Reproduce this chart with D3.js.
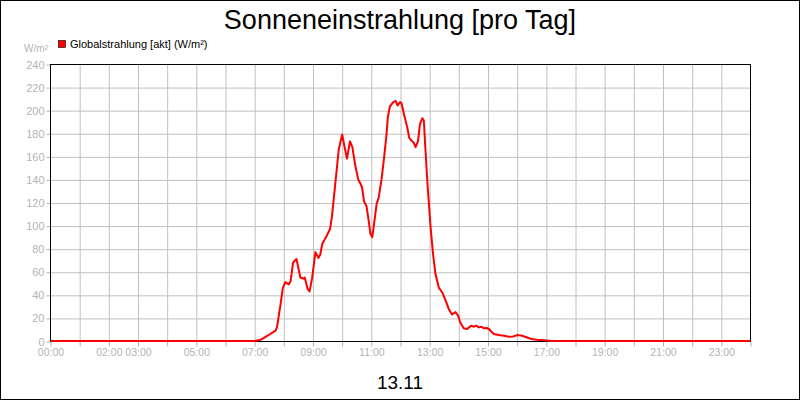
<!DOCTYPE html>
<html>
<head>
<meta charset="utf-8">
<script src="https://cdn.jsdelivr.net/npm/d3@7.9.0/dist/d3.min.js"></script>
<style>
  body { margin: 0; background: #fff; }
  svg { display: block; font-family: Arial, "Liberation Sans", sans-serif; }
</style>
</head>
<body>
<svg id="chart" width="800" height="400"></svg>
<script>
// readings of the day (time of day, W/m²)
const times = [
  "00:00", "07:00", "07:12", "07:20", "07:28", "07:43", "07:46", "07:53", "07:58",
  "08:03", "08:10", "08:14", "08:19", "08:26", "08:34", "08:40", "08:43", "08:49", "08:53", "08:58",
  "09:05", "09:11", "09:15", "09:19", "09:28", "09:35", "09:39", "09:46", "09:53",
  "10:00", "10:05", "10:10", "10:16", "10:21", "10:27", "10:33", "10:38", "10:41", "10:45", "10:50", "10:55", "10:58",
  "11:02", "11:07", "11:11", "11:15", "11:21", "11:26", "11:31", "11:34", "11:38", "11:45", "11:50", "11:54", "11:59",
  "12:02", "12:08", "12:14", "12:18", "12:24", "12:27", "12:31", "12:36", "12:40", "12:45", "12:48", "12:51", "12:56",
  "13:02", "13:07", "13:12", "13:19", "13:26", "13:33", "13:39", "13:46", "13:53", "13:58",
  "14:03", "14:10", "14:17", "14:25", "14:31", "14:36", "14:41", "14:47", "14:51", "14:57",
  "15:02", "15:07", "15:12", "15:22", "15:33", "15:43", "15:52",
  "16:01", "16:10", "16:19", "16:29", "16:41", "17:02", "17:10", "24:00"
];
const radiation = [
  0, 0, 1, 3, 5, 9, 12, 31, 46,
  51, 49, 52, 68, 71, 55, 54, 55, 45, 43, 54,
  77, 72, 75, 84, 91, 97, 108, 137, 166,
  179, 168, 158, 173, 168, 152, 140, 136, 133, 121, 117, 103, 93,
  90, 106, 119, 124, 140, 158, 178, 194, 203, 207, 208, 204, 207,
  206, 195, 185, 176, 173, 172, 168, 173, 188, 193, 191, 168, 133,
  98, 75, 58, 46, 42, 35, 28, 23, 25, 22.5,
  16, 11, 10.4, 13.3, 12.4, 13.3, 11.8, 12.4, 11, 11.3,
  10.4, 8, 6, 5.2, 4.6, 3.7, 4,
  5.2, 4.6, 3.2, 1.7, 1.1, 0.5, 0, 0
];
const yTicks = [0, 20, 40, 60, 80, 100, 120, 140, 160, 180, 200, 220, 240];
const xTickLabels = ["00:00", "02:00", "03:00", "05:00", "07:00", "09:00", "11:00",
  "13:00", "15:00", "17:00", "19:00", "21:00", "23:00"];

const title = "Sonneneinstrahlung [pro Tag]";
const seriesName = "Globalstrahlung [akt] (W/m²)";
const unit = "W/m²";
const dayLabel = "13.11";

const width = 800, height = 400;
const plotLeft = 50.5, plotRight = 750.5, plotTop = 64.5, plotBottom = 341.5;
const gray = "#b4b4b4";

const toHours = (s) => {
  const [h, m] = s.split(":").map(Number);
  return h + m / 60;
};
const data = times.map((t, i) => ({ h: toHours(t), v: radiation[i] }));

const svg = d3.select("#chart");

const x = d3.scaleLinear().domain([0, 24]).range([plotLeft, plotRight]);
const y = d3.scaleLinear().domain([0, 240]).range([plotBottom, plotTop]);

// outer frame
svg.append("rect")
  .attr("x", 0.5).attr("y", 0.5)
  .attr("width", width - 1).attr("height", height - 1)
  .attr("fill", "#fff").attr("stroke", "#000");

// grid
svg.append("g")
  .attr("transform", `translate(0,${plotBottom})`)
  .call(d3.axisBottom(x).tickValues(d3.range(1, 24)).tickSize(-(plotBottom - plotTop)).tickFormat(""))
  .call((g) => g.select(".domain").remove())
  .call((g) => g.selectAll("line").attr("stroke", "#c0c0c0"));

svg.append("g")
  .attr("transform", `translate(${plotLeft},0)`)
  .call(d3.axisLeft(y).tickValues(yTicks.slice(1, -1)).tickSize(-(plotRight - plotLeft)).tickFormat(""))
  .call((g) => g.select(".domain").remove())
  .call((g) => g.selectAll("line").attr("stroke", "#c0c0c0"));

// axes
const labelByHour = new Map(xTickLabels.map((l) => [toHours(l), l]));

svg.append("g")
  .attr("transform", `translate(0,${plotBottom})`)
  .call(d3.axisBottom(x).tickValues(d3.range(0, 25)).tickSize(5).tickPadding(2)
    .tickFormat((h) => labelByHour.get(h) || ""))
  .call((g) => g.select(".domain").remove())
  .call((g) => g.selectAll("line").attr("stroke", gray))
  .call((g) => g.selectAll("text").attr("fill", gray)
    .style("font-size", "10.5px").style("font-family", "Arial, 'Liberation Sans', sans-serif"));

svg.append("g")
  .attr("transform", `translate(${plotLeft},0)`)
  .call(d3.axisLeft(y).tickValues(yTicks).tickSize(4).tickPadding(2))
  .call((g) => g.select(".domain").remove())
  .call((g) => g.selectAll("line").attr("stroke", gray))
  .call((g) => g.selectAll("text").attr("fill", gray)
    .style("font-size", "11px").style("font-family", "Arial, 'Liberation Sans', sans-serif"));

// plot frame
svg.append("rect")
  .attr("x", plotLeft).attr("y", plotTop)
  .attr("width", plotRight - plotLeft).attr("height", plotBottom - plotTop)
  .attr("fill", "none").attr("stroke", "#000");

// the series
const line = d3.line()
  .x((d) => x(d.h))
  .y((d) => y(d.v) - 0.5);

svg.append("path")
  .datum(data)
  .attr("d", line)
  .attr("fill", "none")
  .attr("stroke", "#ff0000")
  .attr("stroke-width", 2)
  .attr("stroke-linejoin", "round");

// texts
svg.append("text")
  .attr("x", width / 2).attr("y", 29)
  .attr("text-anchor", "middle")
  .style("font-size", "27px")
  .text(title);

svg.append("text")
  .attr("x", width / 2).attr("y", 389)
  .attr("text-anchor", "middle")
  .style("font-size", "19px")
  .text(dayLabel);

svg.append("text")
  .attr("x", 48).attr("y", 52)
  .attr("text-anchor", "end")
  .attr("fill", gray)
  .style("font-size", "10px")
  .text(unit);

// legend
svg.append("rect")
  .attr("x", 58.5).attr("y", 40.5)
  .attr("width", 7).attr("height", 7)
  .attr("fill", "#ff0000").attr("stroke", "#000").attr("stroke-width", 0.6);

svg.append("text")
  .attr("x", 70).attr("y", 48)
  .style("font-size", "11px")
  .text(seriesName);
</script>
</body>
</html>
